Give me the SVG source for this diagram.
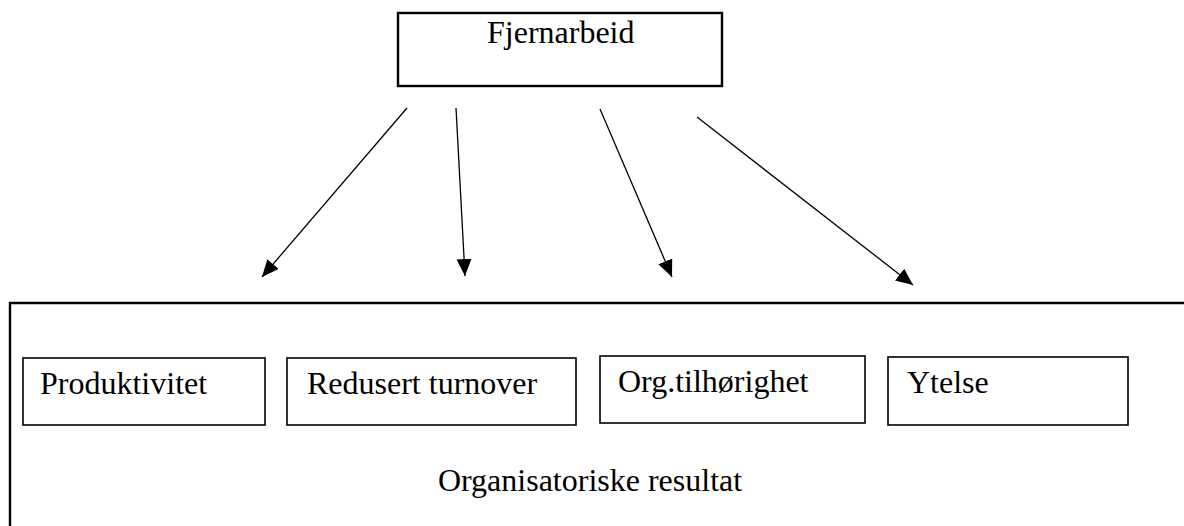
<svg xmlns="http://www.w3.org/2000/svg" width="1184" height="526" viewBox="0 0 1184 526">
<defs>
<style>
.t{font-family:"Liberation Serif","Times New Roman",serif;font-size:32px;fill:#000}
.bx{fill:none;stroke:#000;stroke-width:1.6}
.big{fill:none;stroke:#000;stroke-width:2.4}
.c{stroke:#000;stroke-width:1.3;fill:none}
</style>
<marker id="ah" markerUnits="userSpaceOnUse" markerWidth="18" markerHeight="16" refX="17" refY="7.5" orient="auto">
<path d="M0,0 L17,7.5 L0,15 Z" fill="#000"/>
</marker>
</defs>
<rect width="1184" height="526" fill="#fff"/>
<g id="fjernarbeid">
<rect class="big" x="398" y="13" width="324" height="73"/>
<text class="t" x="487" y="43">Fjernarbeid</text>
</g>
<g id="organisatoriske">
<path class="big" d="M10,526 L10,303 L1184,303"/>
<text class="t" x="590" y="491" text-anchor="middle">Organisatoriske resultat</text>
</g>
<g id="produktivitet">
<rect class="bx" x="23" y="358" width="242" height="67"/>
<text class="t" x="40" y="394">Produktivitet</text>
</g>
<g id="redusert">
<rect class="bx" x="287" y="358" width="289" height="67"/>
<text class="t" x="307" y="394">Redusert turnover</text>
</g>
<g id="org">
<rect class="bx" x="600" y="356" width="265" height="67"/>
<text class="t" x="618" y="392">Org.tilhørighet</text>
</g>
<g id="ytelse">
<rect class="bx" x="888" y="357" width="240" height="68"/>
<text class="t" x="907" y="393">Ytelse</text>
</g>
<g id="connectors">
<line class="c" x1="407" y1="108" x2="262" y2="277" marker-end="url(#ah)"/>
<line class="c" x1="456" y1="108" x2="465" y2="276" marker-end="url(#ah)"/>
<line class="c" x1="600" y1="109" x2="672" y2="277" marker-end="url(#ah)"/>
<line class="c" x1="697" y1="117" x2="913" y2="285" marker-end="url(#ah)"/>
</g>
</svg>
